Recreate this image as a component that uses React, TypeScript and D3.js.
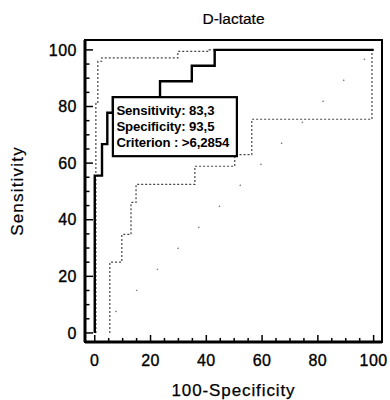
import { useEffect, useRef } from "react";
import * as d3 from "d3";

// ROC corner points (100-Specificity, Sensitivity)
const rocFpr = [0, 0, 2.6, 4.5, 6.5, 23.4, 34.8, 43, 100];
const rocTpr = [0, 55.6, 66.7, 77.8, 83.3, 88.9, 94.4, 100, 100];

// 95% confidence bounds
const upperFpr = [0.4, 0.4, 1.1, 2.5, 29.8, 41, 100];
const upperTpr = [0, 81, 96, 97.2, 99.5, 100, 100];
const lowerFpr = [5.4, 5.4, 9.7, 13, 14.8, 35.9, 50.2, 56.3, 99.4, 100];
const lowerTpr = [0, 25, 34.8, 46.1, 52.5, 58.9, 63, 75.5, 100, 100];

const majorTicks = [0, 20, 40, 60, 80, 100];
const minorTicks = [5, 10, 15, 25, 30, 35, 45, 50, 55, 65, 70, 75, 85, 90, 95];

const optimal = { fpr: 6.5, tpr: 83.3 };
const boxLines = ["Sensitivity: 83,3", "Specificity: 93,5", "Criterion : >6,2854"];

const FONT = "'Liberation Sans', Arial, sans-serif";

export default function App() {
  const svgRef = useRef<SVGSVGElement>(null);

  useEffect(() => {
    if (!svgRef.current) return;
    const width = 390;
    const height = 400;
    const svg = d3.select(svgRef.current).attr("width", width).attr("height", height);
    svg.selectAll("*").remove();

    const left = 85, right = 382, top = 40, bottom = 342;
    const x = d3.scaleLinear().domain([-3.5, 103]).range([left, right]);
    const y = d3.scaleLinear().domain([-3.2, 103.5]).range([bottom, top]);

    const toPts = (xs: number[], ys: number[]) => xs.map((v, i) => [v, ys[i]] as [number, number]);
    const step = d3
      .line<[number, number]>()
      .x((d) => x(d[0]))
      .y((d) => y(d[1]))
      .curve(d3.curveStepAfter);

    // diagonal reference line
    svg.append("line")
      .attr("x1", x(0)).attr("y1", y(0))
      .attr("x2", x(100)).attr("y2", y(100))
      .attr("stroke", "#777")
      .attr("stroke-width", 1.3)
      .attr("stroke-dasharray", "1.5,28");

    // confidence bounds
    [toPts(upperFpr, upperTpr), toPts(lowerFpr, lowerTpr)].forEach((pts) => {
      svg.append("path")
        .attr("d", step(pts))
        .attr("fill", "none")
        .attr("stroke", "#444")
        .attr("stroke-width", 1.2)
        .attr("stroke-dasharray", "2,2");
    });

    // ROC curve
    svg.append("path")
      .attr("d", step(toPts(rocFpr, rocTpr)))
      .attr("fill", "none")
      .attr("stroke", "#000")
      .attr("stroke-width", 2.4);

    // frame
    svg.append("rect")
      .attr("x", left).attr("y", top)
      .attr("width", right - left).attr("height", bottom - top)
      .attr("fill", "none")
      .attr("stroke", "#000")
      .attr("stroke-width", 2);
    svg.append("line").attr("x1", left).attr("x2", left).attr("y1", top).attr("y2", bottom)
      .attr("stroke", "#000").attr("stroke-width", 3);
    svg.append("line").attr("x1", left).attr("x2", right).attr("y1", bottom).attr("y2", bottom)
      .attr("stroke", "#000").attr("stroke-width", 3);

    // ticks (inward)
    const tg = svg.append("g").attr("stroke", "#000").attr("stroke-width", 1.5);
    majorTicks.forEach((t) => {
      tg.append("line").attr("x1", left).attr("x2", left + 8).attr("y1", y(t)).attr("y2", y(t));
      tg.append("line").attr("x1", x(t)).attr("x2", x(t)).attr("y1", bottom).attr("y2", bottom - 7);
    });
    minorTicks.forEach((t) => {
      tg.append("line").attr("x1", left).attr("x2", left + 4.5).attr("y1", y(t)).attr("y2", y(t));
      tg.append("line").attr("x1", x(t)).attr("x2", x(t)).attr("y1", bottom).attr("y2", bottom - 4);
    });

    // tick labels
    const lab = svg.append("g")
      .attr("font-family", FONT).attr("font-size", 16).attr("fill", "#000")
      .attr("stroke", "#000").attr("stroke-width", 0.35);
    majorTicks.forEach((t) => {
      lab.append("text")
        .attr("x", 77).attr("y", y(t)).attr("dy", "0.36em")
        .attr("text-anchor", "end").attr("letter-spacing", 0.5)
        .text(t);
      lab.append("text")
        .attr("x", x(t)).attr("y", 366)
        .attr("text-anchor", "middle").attr("letter-spacing", 0.5)
        .text(t);
    });

    // titles
    svg.append("text")
      .attr("x", (left + right) / 2).attr("y", 24)
      .attr("text-anchor", "middle")
      .attr("font-family", FONT).attr("font-size", 15.5)
      .attr("stroke", "#000").attr("stroke-width", 0.2)
      .text("D-lactate");
    svg.append("text")
      .attr("x", (left + right) / 2).attr("y", 396)
      .attr("text-anchor", "middle")
      .attr("font-family", FONT).attr("font-size", 17).attr("letter-spacing", 0.9)
      .attr("stroke", "#000").attr("stroke-width", 0.25)
      .text("100-Specificity");
    svg.append("text")
      .attr("transform", `translate(23,191) rotate(-90)`)
      .attr("text-anchor", "middle")
      .attr("font-family", FONT).attr("font-size", 17).attr("letter-spacing", 1.2)
      .attr("stroke", "#000").attr("stroke-width", 0.2)
      .text("Sensitivity");

    // criterion box at the optimal point
    const bx = x(optimal.fpr), by = y(optimal.tpr);
    svg.append("rect")
      .attr("x", bx).attr("y", by)
      .attr("width", 124).attr("height", 59)
      .attr("fill", "#fff")
      .attr("stroke", "#000")
      .attr("stroke-width", 2.2);
    boxLines.forEach((s, i) => {
      svg.append("text")
        .attr("x", bx + 3.5).attr("y", by + 18 + i * 16)
        .attr("font-family", FONT).attr("font-size", 13.2).attr("font-weight", "bold")
        .attr("letter-spacing", -0.1)
        .text(s);
    });
  }, []);

  return <svg ref={svgRef} style={{ position: "absolute", left: 0, top: 0 }} />;
}
